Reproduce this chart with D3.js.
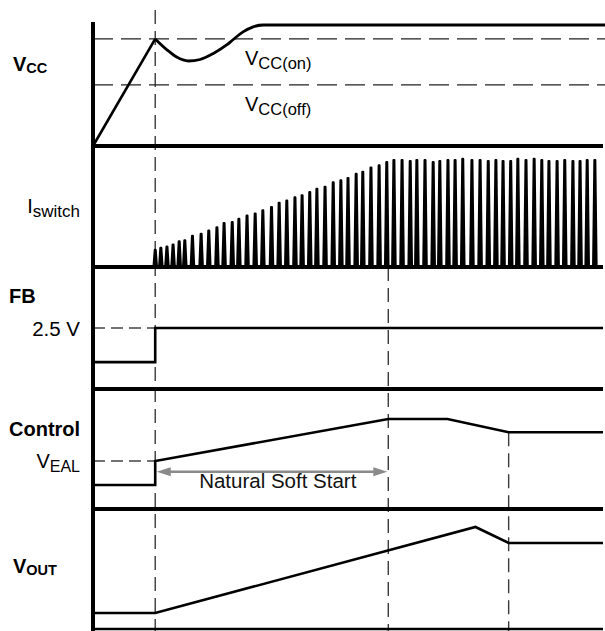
<!DOCTYPE html>
<html>
<head>
<meta charset="utf-8">
<script src="https://cdn.jsdelivr.net/npm/d3@7"></script>
<style>
  html, body { margin: 0; padding: 0; background: #fff; }
  svg { display: block; font-family: "Liberation Sans", Arial, Helvetica, sans-serif; }
</style>
</head>
<body>
<svg id="chart" width="605" height="631"></svg>
<script>
// ---- Timing markers (arbitrary time units, 0..100 across the trace) ----
const tOn = 12.2;       // VCC reaches VCC(on), switching starts
const tSoftEnd = 57.9;  // end of the natural soft start
const tSettle = 81.5;   // regulation settled

// ---- VCC trace (volts) ----
const vccOn = 17.7;
const vccOff = 10.1;
const vccRamp = [[0, 0], [12.2, 17.7]];
const vccRecovery = [
  [12.2, 17.7], [14.5, 15.9], [16.4, 14.7], [18.7, 14.05], [21.0, 14.3],
  [23.6, 15.3], [26.2, 16.7], [27.5, 17.6], [29.5, 18.9], [31.4, 19.7],
  [33.4, 20.0], [100.4, 20.0]
];

// ---- Switch current pulses (time, relative peak) ----
const pulseTimes = [
  12.2, 13.3, 14.5, 15.7, 16.9, 18.0, 19.5, 21.2, 22.7, 24.3,
  25.7, 27.3, 28.6, 30.2, 31.8, 33.3, 35.0, 36.5, 38.0, 39.6,
  41.0, 42.5, 43.9, 45.5, 47.1, 48.6, 50.0, 51.6, 52.9, 54.5,
  56.1, 57.6, 59.0, 60.6, 62.2, 63.5, 65.1, 66.7, 68.0, 69.6,
  71.0, 72.5, 74.3, 75.9, 77.5, 79.0, 80.4, 81.9, 83.3, 84.9,
  86.5, 88.0, 89.4, 91.0, 92.5, 94.1, 95.5, 96.9, 98.4
];
const pulsePeaks = [
  0.16, 0.18, 0.19, 0.21, 0.24, 0.25, 0.29, 0.31, 0.34, 0.37,
  0.41, 0.42, 0.45, 0.48, 0.50, 0.53, 0.56, 0.60, 0.62, 0.65,
  0.67, 0.70, 0.73, 0.75, 0.79, 0.81, 0.83, 0.87, 0.89, 0.93,
  0.95, 0.98, 1.00, 1.00, 0.99, 1.00, 1.00, 0.98, 0.99, 1.00,
  1.00, 1.01, 1.00, 1.00, 0.99, 1.00, 0.99, 0.99, 1.01, 1.00,
  1.01, 1.00, 0.99, 0.99, 1.00, 0.99, 0.99, 1.00, 1.00
];

// ---- FB pin (volts) ----
const fbRef = 2.5;
const fbWave = [[0, 1.1], [12.2, 1.1], [12.2, 2.5], [100, 2.5]];

// ---- Control voltage (volts) ----
const vEAL = 2.0;
const controlWave = [
  [0, 1.0], [12.2, 1.0], [12.2, 2.0], [57.9, 3.75], [69.5, 3.75], [81.5, 3.2], [100, 3.2]
];

// ---- Output voltage (volts) ----
const voutWave = [[0, 0.8], [12.2, 0.8], [75.0, 5.1], [81.5, 4.3], [100, 4.3]];

// ---- Scales ----
const x = d3.scaleLinear().domain([0, 100]).range([93, 603]);
const yVcc = d3.scaleLinear().domain([0, 20]).range([146, 25]);
const yIsw = d3.scaleLinear().domain([0, 1]).range([267, 160]);
const yFb = d3.scaleLinear().domain([0, 5]).range([389, 267]);
const yCtl = d3.scaleLinear().domain([0, 5]).range([509, 389]);
const yOut = d3.scaleLinear().domain([0, 6]).range([629, 509]);

const svg = d3.select("#chart");
const W = 605, H = 631;

const line = (ys, curve) => d3.line()
  .x(d => x(d[0])).y(d => ys(d[1]))
  .curve(curve || d3.curveLinear);

// ---- Timing guides (vertical dashed) ----
const guides = svg.append("g")
  .attr("stroke", "#3a3a3a").attr("stroke-width", 1.4)
  .attr("stroke-dasharray", "14,7").attr("fill", "none");
guides.append("line").attr("x1", x(tOn)).attr("x2", x(tOn)).attr("y1", 10).attr("y2", H);
guides.append("line").attr("x1", x(tSoftEnd)).attr("x2", x(tSoftEnd)).attr("y1", yIsw(0)).attr("y2", H);
guides.append("line").attr("x1", x(tSettle)).attr("x2", x(tSettle)).attr("y1", yCtl(controlWave[5][1])).attr("y2", H);

// ---- Threshold levels (horizontal dashed) ----
const levels = svg.append("g").attr("stroke", "#222").attr("stroke-width", 1.3).attr("fill", "none");
[vccOn, vccOff].forEach(v => {
  levels.append("line")
    .attr("x1", x(0)).attr("x2", W)
    .attr("y1", yVcc(v)).attr("y2", yVcc(v))
    .attr("stroke-dasharray", "20,8");
});
levels.append("line")
  .attr("x1", x(0)).attr("x2", x(tOn))
  .attr("y1", yFb(fbRef)).attr("y2", yFb(fbRef))
  .attr("stroke", "#444").attr("stroke-dasharray", "12,6");
levels.append("line")
  .attr("x1", x(0)).attr("x2", x(tOn))
  .attr("y1", yCtl(vEAL)).attr("y2", yCtl(vEAL))
  .attr("stroke", "#444").attr("stroke-dasharray", "12,6");

// ---- Signal traces ----
const traces = svg.append("g").attr("fill", "none").attr("stroke", "#000")
  .attr("stroke-width", 2.6).attr("stroke-linejoin", "miter");
traces.append("path").attr("d", line(yVcc)(vccRamp));
traces.append("path").attr("d", line(yVcc, d3.curveMonotoneX)(vccRecovery)).attr("stroke-width", 2.8);
traces.append("path").attr("d", line(yFb)(fbWave));
traces.append("path").attr("d", line(yCtl)(controlWave));
traces.append("path").attr("d", line(yOut)(voutWave));

// ---- Switch current pulses ----
const halfBase = 1.7;
svg.append("g").selectAll("path")
  .data(pulseTimes.map((t, i) => [t, pulsePeaks[i]]))
  .join("path")
  .attr("d", d => {
    const cx = x(d[0]);
    return `M${cx - halfBase},${yIsw(0)}L${cx - 0.4},${yIsw(d[1])}L${cx + 0.4},${yIsw(d[1])}L${cx + halfBase},${yIsw(0)}Z`;
  })
  .attr("fill", "#000").attr("stroke", "#000")
  .attr("stroke-width", 2.2).attr("stroke-linejoin", "round");

// ---- Panel baselines and time axis ----
const frame = svg.append("g").attr("stroke", "#000").attr("fill", "none");
[yVcc(0), yIsw(0), yFb(0), yCtl(0)].forEach(y => {
  frame.append("line").attr("x1", x(0)).attr("x2", x(100)).attr("y1", y).attr("y2", y)
    .attr("stroke-width", 3.8);
});
frame.append("line").attr("x1", x(0)).attr("x2", x(100)).attr("y1", yOut(0)).attr("y2", yOut(0))
  .attr("stroke-width", 2.4);
frame.append("line").attr("x1", x(0)).attr("x2", x(0)).attr("y1", 22).attr("y2", H)
  .attr("stroke-width", 4);

// ---- Soft start annotation ----
const arrowY = yCtl(1.55);
const ax0 = x(tOn) + 1.5, ax1 = x(tSoftEnd) - 1;
const head = 14, hh = 4.5;
const ann = svg.append("g").attr("fill", "#8a8a8a").attr("stroke", "#8a8a8a");
ann.append("line").attr("x1", ax0 + head - 2).attr("x2", ax1 - head + 2)
  .attr("y1", arrowY).attr("y2", arrowY).attr("stroke-width", 2.4);
ann.append("path").attr("stroke", "none")
  .attr("d", `M${ax0},${arrowY}L${ax0 + head},${arrowY - hh}L${ax0 + head},${arrowY + hh}Z`);
ann.append("path").attr("stroke", "none")
  .attr("d", `M${ax1},${arrowY}L${ax1 - head},${arrowY - hh}L${ax1 - head},${arrowY + hh}Z`);
svg.append("text").attr("x", (x(tOn) + x(tSoftEnd)) / 2 + 6).attr("y", 488)
  .attr("text-anchor", "middle").attr("font-size", 20.5).attr("fill", "#111")
  .text("Natural Soft Start");

// ---- Labels ----
function subLabel(px, py, main, sub, opts) {
  const t = svg.append("text").attr("x", px).attr("y", py)
    .attr("text-anchor", opts.anchor || "start")
    .attr("font-weight", opts.bold ? "bold" : "normal")
    .attr("font-size", opts.size).attr("fill", "#000");
  t.append("tspan").text(main);
  if (sub) t.append("tspan").attr("font-size", opts.subSize).attr("dy", opts.dy).text(sub);
  return t;
}
subLabel(13, 71, "V", "CC", { bold: true, size: 20, subSize: 14.5, dy: 2 });
subLabel(245, 65, "V", "CC(on)", { size: 20, subSize: 16.5, dy: 4 });
subLabel(245, 111, "V", "CC(off)", { size: 20, subSize: 16.5, dy: 4 });
subLabel(80, 213, "I", "switch", { anchor: "end", size: 20, subSize: 17, dy: 4 });
subLabel(9, 303, "FB", null, { bold: true, size: 20 });
subLabel(80, 336, "2.5 V", null, { anchor: "end", size: 20.5 });
subLabel(9, 436, "Control", null, { bold: true, size: 20 });
subLabel(80, 468, "V", "EAL", { anchor: "end", size: 20, subSize: 16, dy: 4 });
subLabel(13, 573, "V", "OUT", { bold: true, size: 20, subSize: 14.5, dy: 2 });
</script>
</body>
</html>
